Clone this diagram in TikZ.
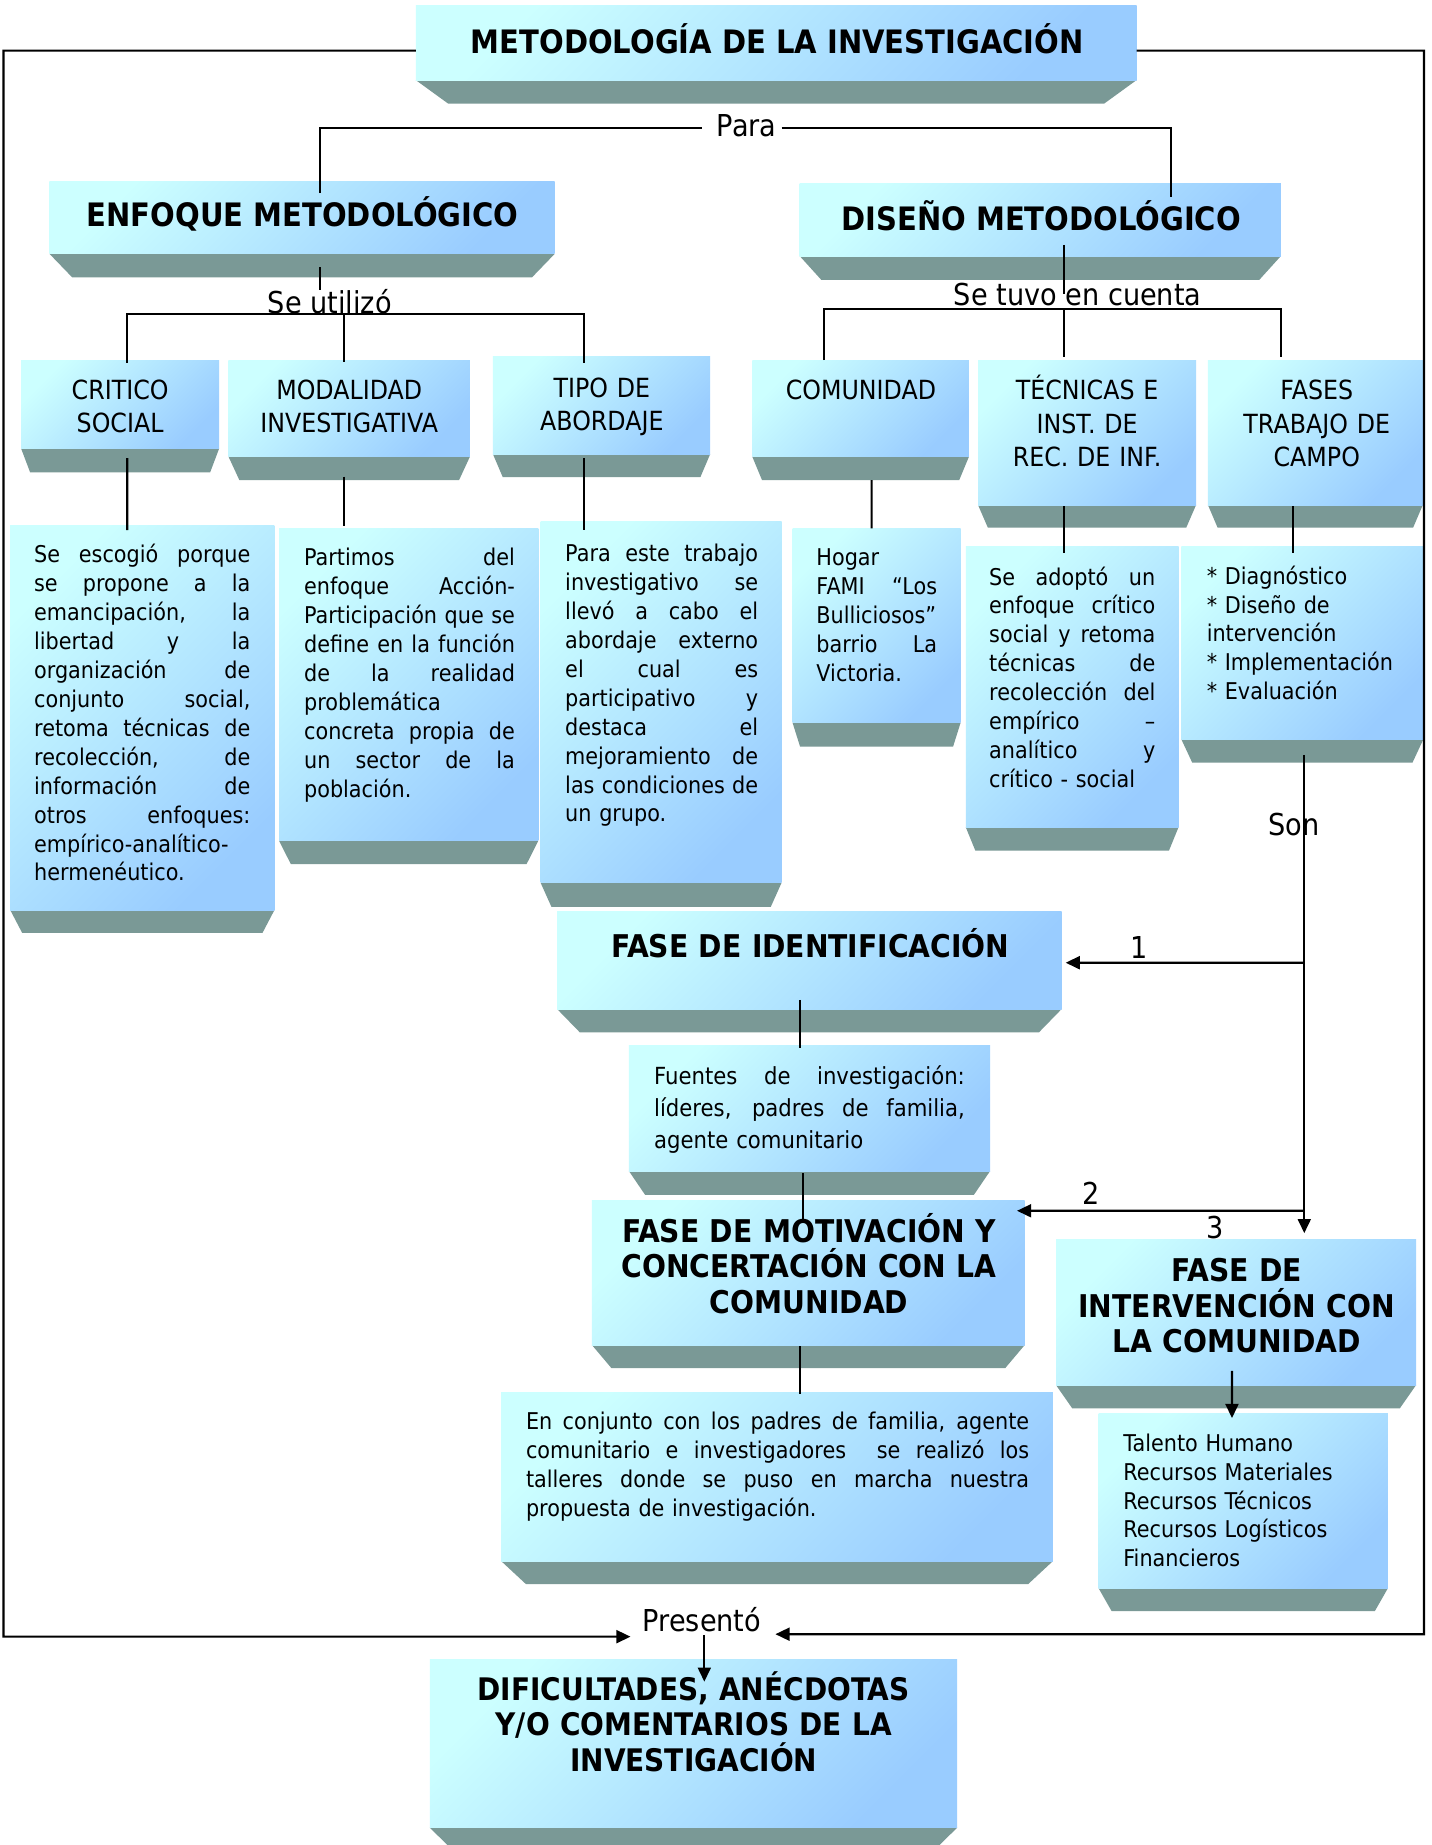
\documentclass[tikz,border=0pt]{standalone}
\usepackage{fontspec}
\setmainfont{DejaVu Sans}[FakeStretch=0.9]
\usetikzlibrary{arrows.meta,calc}
\definecolor{lightc}{RGB}{204,255,255}
\definecolor{darkc}{RGB}{153,204,255}
\definecolor{shadowc}{RGB}{122,153,150}
\newcommand\jl[1]{\makebox[\hsize][s]{\spaceskip=\fontdimen2\font plus 1fil minus \fontdimen4\font\xspaceskip=\spaceskip #1}}
\newcommand\pbox[6]{%
  \pgfmathsetmacro\pbins{0.045*(#4-#2)}%
  \pgfmathsetmacro\pbw{(#4-#2)*0.5}%
  \pgfmathsetmacro\pbh{(#5-#3)*0.5}%
  \fill[shadowc] (#2,#5) -- (#4,#5) -- ({#4-\pbins},#6) -- ({#2+\pbins},#6) -- cycle;
  \node[panel, anchor=north west, minimum width=\pbw pt, minimum height=\pbh pt] (#1) at (#2,#3) {};
}
\tikzset{
  panel/.style={inner sep=0pt, outer sep=0pt, draw=none, top color=lightc, bottom color=darkc, shading angle=45},
  conn/.style={line width=0.9pt, black},
  arr/.style={conn, -{Triangle[length=6pt,width=5.5pt]}},
  ttl/.style={anchor=base, inner sep=0pt, font=\bfseries\fontsize{13.7}{16}\selectfont},
  cat/.style={anchor=base, inner sep=0pt, align=center, font=\fontsize{11.2}{14.2}\selectfont},
  phase/.style={anchor=base, inner sep=0pt, align=center, font=\bfseries\fontsize{13.3}{15.1}\selectfont},
  body/.style={anchor=base west, inner sep=0pt, align=left, font=\fontsize{9.8}{12.27}\selectfont},
  lbl/.style={anchor=base, inner sep=0pt, font=\fontsize{12.8}{15}\selectfont},
}
\begin{document}
\begin{tikzpicture}[x=0.5pt, y=-0.5pt]
\useasboundingbox (0,0) rectangle (1215,1566.5);
\fill[white] (0,0) rectangle (1215,1566.5);

% ---------- panels ----------
\pbox{title}{353}{5}{965}{68}{88}
\pbox{enf}{42}{154}{471}{215.5}{235.5}
\pbox{dis}{679}{155.7}{1087.5}{217.4}{237.7}
\pbox{crit}{18}{305.7}{186}{381}{401}
\pbox{moda}{194}{305.7}{399}{387.7}{407.6}
\pbox{tipo}{418.5}{303}{603}{385.5}{405}
\pbox{comu}{638.7}{305.7}{822.7}{387.7}{407.6}
\pbox{tec}{830.4}{305.7}{1015.5}{428.8}{448}
\pbox{fases}{1025.6}{305.7}{1208}{428.8}{448}
\pbox{critt}{8.7}{446}{233}{772.7}{792}
\pbox{modat}{237}{448.5}{457}{714}{733.6}
\pbox{tipot}{459}{443}{663.6}{749.5}{770}
\pbox{hogar}{672.9}{448.6}{815.6}{613.6}{634}
\pbox{tect}{820}{463.6}{1000.6}{702.4}{722.3}
\pbox{fasest}{1003}{463.6}{1208.5}{627.7}{647.5}
\pbox{ident}{473}{774.3}{901.4}{856.7}{876.5}
\pbox{fuen}{534}{887.3}{840.6}{994.3}{1014.6}
\pbox{moti}{502.6}{1018.9}{870}{1142}{1161.6}
\pbox{inter}{896.6}{1052.8}{1202.3}{1176}{1195.7}
\pbox{conj}{425.5}{1182}{894}{1325.4}{1345}
\pbox{tal}{932.8}{1200}{1178.3}{1348.6}{1368}
\pbox{difi}{365}{1408.6}{812.6}{1551.8}{1571.8}

% ---------- labels on connectors ----------
\node[lbl, inner xsep=2pt] (para) at (634,115.5) {Para};
\node[lbl] (seu) at (280,266) {Se utilizó};
\node[lbl] (stc) at (915,259) {Se tuvo en cuenta};
\node[lbl] (son) at (1098.4,709.8) {Son};
\node[lbl] (n1) at (967,813.6) {1};
\node[lbl] (n2) at (926,1022.5) {2};
\node[lbl] (n3) at (1031.6,1051.4) {3};
\node[lbl] (pres) at (596,1385.3) {Presentó};

% ---------- connectors ----------
\draw[conn] ($(enf.north west)+(230,10)$) |- ([xshift=-4pt,yshift=-1.2pt]para.west);
\draw[conn] ([yshift=-1.2pt]para.east) -| ($(dis.north west)+(315,11.3)$);
\draw[conn] ($(enf.north west)+(230,73)$) -- ++(0,19);
\draw[conn] ($(crit.north west)+(90,2.3)$) |- ($(tipo.north west)+(77.5,-36.4)$) -- ++(0,41.4);
\draw[conn] ($(moda.north west)+(98,1.5)$) -- ++(0,-40.6);
\draw[conn] ($(dis.north west)+(224.7,52.3)$) -- ++(0,42);
\draw[conn] ($(comu.north west)+(61,0)$) |- ($(fases.north west)+(61.9,-43.3)$) -- ++(0,40.4);
\draw[conn] ($(tec.north west)+(73.3,-2.7)$) -- ++(0,-40.6);

\draw[conn] ($(crit.south west)+(90,8)$) -- ($(critt.north west)+(99.3,4)$);
\draw[conn] ($(moda.south west)+(98,17)$) -- ($(modat.north west)+(55,-1.5)$);
\draw[conn] ($(tipo.south west)+(77.5,3.5)$) -- ($(tipot.north west)+(37,7)$);
\draw[conn] ($(comu.south west)+(101.3,20)$) -- ($(hogar.north west)+(67.1,0)$);
\draw[conn] ($(tec.south west)+(73.1,1.2)$) -- ($(tect.north west)+(83.5,6.1)$);
\draw[conn] ($(fases.south west)+(72.4,1.2)$) -- ($(fasest.north west)+(95,6.1)$);

\draw[arr] ($(fasest.south west)+(104.4,13.3)$) -- ($(inter.north west)+(210.8,-5.8)$);
\draw[arr] ($(fasest.south west)+(104.4,189.7)$) -- ($(ident.north east)+(3.4,43.1)$);
\draw[arr] ($(fasest.south west)+(104.4,400.3)$) -- ($(moti.north east)+(-6.5,9.1)$);

\draw[conn] ($(ident.south west)+(206.3,-7.7)$) -- ($(fuen.north west)+(145.3,2.2)$);
\draw[conn] ($(fuen.south west)+(147.8,1.7)$) -- ($(moti.north west)+(179.2,18.1)$);
\draw[conn] ($(moti.south west)+(176.4,1)$) -- ($(conj.north west)+(253.5,1.6)$);
\draw[arr] ($(inter.south west)+(149.4,-12)$) -- ($(tal.north west)+(113.2,4)$);

\coordinate (fl1) at (3,43);
\coordinate (fl2) at (3,1389.6);
\coordinate (fr1) at (1209,43);
\coordinate (fr2) at (1209,1387.5);
\draw[arr] ($(title.north west)+(0,38)$) -- (fl1) -- (fl2) -- ($(pres.base west)+(-10,4.3)$);
\draw[arr] ($(title.north east)+(0,38)$) -- (fr1) -- (fr2) -- ($(pres.base east)+(11.7,2.2)$);
\draw[arr] ($(pres.base)+(2,2.7)$) -- ($(difi.north west)+(233,19.2)$);

% ---------- panel texts ----------
\node[ttl] (titlet) at (660,45.3) {METODOLOGÍA DE LA INVESTIGACIÓN};
\node[ttl] (enft) at (257,192.5) {ENFOQUE METODOLÓGICO};
\node[ttl] (dist) at (884,195.3) {DISEÑO METODOLÓGICO};

\node[cat, text width=80pt] (critl) at (102,339) {CRITICO\\SOCIAL};
\node[cat, text width=100pt] (modal) at (296.5,339) {MODALIDAD\\INVESTIGATIVA};
\node[cat, text width=90pt] (tipol) at (511,337.5) {TIPO DE\\ABORDAJE};
\node[cat, text width=90pt] (comul) at (731,339.6) {COMUNIDAD};
\node[cat, text width=90pt] (tecl) at (923,339.6) {TÉCNICAS E\\INST. DE\\REC. DE INF.};
\node[cat, text width=90pt] (fasesl) at (1118,339.6) {FASES\\TRABAJO DE\\CAMPO};

\node[body, text width=91.8pt] (crittx) at (28.6,478) {\jl{Se escogió porque}\\
\jl{se propone a la}\\
\jl{emancipación, la}\\
\jl{libertad y la}\\
\jl{organización de}\\
\jl{conjunto social,}\\
\jl{retoma técnicas de}\\
\jl{recolección, de}\\
\jl{información de}\\
\jl{otros enfoques:}\\
empírico-analítico-\\
hermenéutico.};

\node[body, text width=89.5pt] (modatx) at (257.8,480.5) {\jl{Partimos del}\\
\jl{enfoque Acción-}\\
\jl{Participación que se}\\
\jl{define en la función}\\
\jl{de la realidad}\\
problemática\\
\jl{concreta propia de}\\
\jl{un sector de la}\\
población.};

\node[body, text width=81.9pt] (tipotx) at (479.5,477) {\jl{Para este trabajo}\\
\jl{investigativo se}\\
\jl{llevó a cabo el}\\
\jl{abordaje externo}\\
\jl{el cual es}\\
\jl{participativo y}\\
\jl{destaca el}\\
\jl{mejoramiento de}\\
\jl{las condiciones de}\\
un grupo.};

\node[body, text width=51.2pt] (hogartx) at (692.8,480.3) {Hogar\\
\jl{FAMI “Los}\\
Bulliciosos”\\
\jl{barrio La}\\
Victoria.};

\node[body, text width=70.5pt] (tectx) at (839.5,496.7) {\jl{Se adoptó un}\\
\jl{enfoque crítico}\\
\jl{social y retoma}\\
\jl{técnicas de}\\
\jl{recolección del}\\
\jl{empírico –}\\
\jl{analítico y}\\
crítico - social};

\node[body, text width=88pt] (fasestx) at (1024.2,496) {{*} Diagnóstico\\{}%
{*} Diseño de\\{}%
intervención\\{}%
{*} Implementación\\{}%
{*} Evaluación};

\node[phase, text width=190pt] (identx) at (688,813) {FASE DE IDENTIFICACIÓN};

\node[body, text width=131.9pt, font=\fontsize{10}{13.5}\selectfont] (fuentx) at (555,921) {\jl{Fuentes de investigación:}\\
\jl{líderes, padres de familia,}\\
agente comunitario};

\node[phase, text width=180pt] (motitx) at (687,1054.8) {FASE DE MOTIVACIÓN Y\\CONCERTACIÓN CON LA\\COMUNIDAD};
\node[phase, text width=150pt] (intertx) at (1050,1088) {FASE DE\\INTERVENCIÓN CON\\LA COMUNIDAD};

\node[body, text width=213.6pt, font=\fontsize{9.8}{12.2}\selectfont] (conjtx) at (446.2,1214) {\jl{En conjunto con los padres de familia, agente}\\
\jl{comunitario e investigadores\ \ se realizó los}\\
\jl{talleres donde se puso en marcha nuestra}\\
propuesta de investigación.};

\node[body, text width=110pt, font=\fontsize{9.8}{12.2}\selectfont] (taltx) at (953.3,1232.5) {Talento Humano\\
Recursos Materiales\\
Recursos Técnicos\\
Recursos Logísticos\\
Financieros};

\node[phase, text width=210pt, font=\bfseries\fontsize{13.2}{15.25}\selectfont] (difitx) at (589,1443.4) {DIFICULTADES, ANÉCDOTAS\\Y/O COMENTARIOS DE LA\\INVESTIGACIÓN};
\end{tikzpicture}
\end{document}
